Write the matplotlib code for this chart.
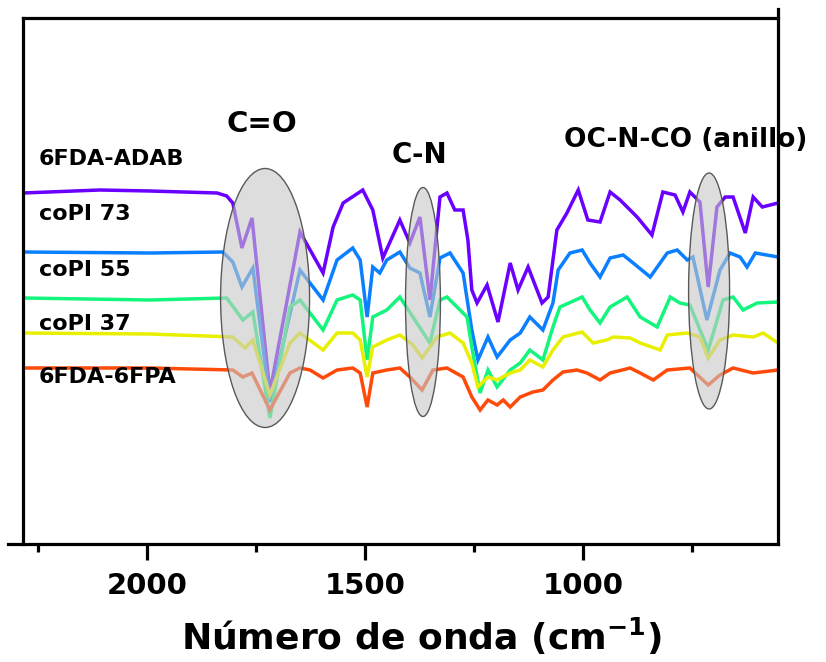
import matplotlib
matplotlib.use("Agg")
import matplotlib.pyplot as plt
from matplotlib.patches import Ellipse
from matplotlib.ticker import MultipleLocator

plt.rcParams['font.family'] = 'DejaVu Sans'
plt.rcParams['font.weight'] = 'bold'
plt.rcParams['mathtext.default'] = 'bf'

# FTIR spectra, wavenumber (cm-1) vs offset transmittance (a.u.)
wn_adab = [2284, 2108, 1993, 1839, 1817, 1803, 1782, 1759, 1718, 1649, 1596, 1573, 1550,
           1505, 1482, 1459, 1420, 1397, 1374, 1351, 1328, 1312, 1294, 1275, 1264, 1255,
           1243, 1220, 1195, 1167, 1149, 1126, 1094, 1080, 1060, 1037, 1011, 989, 961,
           938, 915, 876, 842, 817, 789, 771, 755, 732, 713, 693, 674, 656, 628, 610, 589, 553]
t_adab = [351, 354, 353, 351, 348, 341, 296, 326, 152, 312, 271, 317, 341,
          354, 334, 286, 324, 301, 327, 244, 347, 351, 334, 334, 304, 254,
          241, 259, 222, 281, 254, 277, 241, 247, 314, 331, 354, 324, 322,
          352, 344, 327, 309, 352, 349, 332, 352, 342, 257, 337, 347, 347, 311, 347, 337, 341]

wn_73 = [2284, 1993, 1826, 1803, 1782, 1757, 1718, 1649, 1596, 1564, 1528, 1511, 1495,
         1482, 1466, 1450, 1420, 1397, 1374, 1351, 1328, 1305, 1275, 1255, 1241, 1218,
         1197, 1167, 1144, 1122, 1092, 1069, 1057, 1030, 1002, 984, 961, 938, 908, 885,
         846, 807, 784, 761, 748, 716, 686, 663, 640, 624, 605, 553]
t_73 = [292, 291, 292, 282, 257, 276, 142, 274, 244, 284, 296, 284, 227,
        277, 271, 284, 292, 276, 271, 227, 286, 291, 271, 214, 184, 207,
        187, 204, 211, 227, 214, 241, 274, 291, 294, 281, 267, 286, 289, 281,
        267, 291, 294, 284, 287, 224, 274, 291, 287, 277, 291, 287]

wn_55 = [2284, 1993, 1817, 1780, 1757, 1718, 1672, 1649, 1596, 1564, 1528, 1511, 1495,
         1482, 1450, 1420, 1390, 1351, 1328, 1312, 1282, 1266, 1255, 1236, 1218, 1197,
         1167, 1144, 1122, 1092, 1069, 1053, 1002, 984, 961, 938, 899, 869, 830, 800,
         778, 755, 713, 679, 656, 633, 601, 553]
t_55 = [246, 244, 246, 224, 232, 126, 237, 244, 214, 244, 249, 244, 184,
        227, 234, 247, 227, 201, 244, 247, 234, 227, 197, 151, 174, 157,
        174, 181, 194, 184, 217, 237, 247, 234, 221, 237, 247, 227, 217, 247,
        241, 239, 194, 244, 247, 234, 241, 242]

wn_37 = [2284, 1993, 1803, 1775, 1757, 1718, 1672, 1649, 1596, 1564, 1528, 1511, 1495,
         1482, 1450, 1420, 1390, 1369, 1335, 1305, 1275, 1255, 1241, 1218, 1197, 1167,
         1144, 1122, 1092, 1069, 1046, 1002, 977, 945, 931, 892, 869, 823, 807, 761,
         732, 713, 686, 656, 610, 587, 553]
t_37 = [211, 210, 207, 196, 204, 149, 201, 211, 194, 211, 211, 204, 167,
        197, 204, 209, 199, 186, 207, 211, 201, 181, 157, 167, 164, 171,
        174, 184, 177, 194, 207, 212, 201, 204, 207, 206, 201, 194, 209, 211,
        207, 186, 204, 209, 207, 211, 201]

wn_6fpa = [2284, 1993, 1803, 1780, 1759, 1718, 1672, 1649, 1626, 1596, 1564, 1528, 1511,
           1495, 1482, 1450, 1420, 1397, 1369, 1344, 1312, 1275, 1255, 1236, 1218, 1197,
           1183, 1167, 1144, 1115, 1092, 1069, 1046, 1014, 991, 961, 938, 892, 869, 839,
           807, 755, 713, 686, 656, 610, 553]
t_6fpa = [176, 176, 174, 167, 171, 134, 171, 176, 174, 166, 174, 176, 171,
          137, 171, 174, 176, 167, 154, 174, 176, 167, 147, 134, 144, 139,
          144, 137, 147, 152, 154, 164, 172, 174, 171, 164, 171, 176, 171, 164,
          174, 176, 159, 169, 176, 171, 174]

series = [
    ("6FDA-ADAB", wn_adab, t_adab, "#6a00ff"),
    ("coPI 73", wn_73, t_73, "#0a7fff"),
    ("coPI 55", wn_55, t_55, "#14f57e"),
    ("coPI 37", wn_37, t_37, "#e8f000"),
    ("6FDA-6FPA", wn_6fpa, t_6fpa, "#ff4a0a"),
]

# band regions: label, centre wavenumber, centre y, width, height
bands = [
    ("C=O", 1729, 246, 204, 259),
    ("C-N", 1367, 242, 80, 229),
    ("OC-N-CO (anillo)", 711, 253, 94, 236),
]

W, H = 826, 662
fig = plt.figure(figsize=(W / 100, H / 100), dpi=100)
ax = fig.add_axes([23 / W, 1 - 544 / H, (778 - 23) / W, (544 - 18) / H])

for name, x, y, c in series:
    ax.plot(x, y, color=c, lw=2.5, solid_joinstyle='miter', zorder=2)

for name, xc, yc, w, h in bands:
    ax.add_patch(Ellipse((xc, yc), w, h, facecolor=(0.78, 0.78, 0.78, 0.6),
                         edgecolor=(0.35, 0.35, 0.35, 1), lw=1.0, zorder=3))

ax.set_xlim(2284, 553)
ax.set_ylim(0, 526)

for s in ax.spines.values():
    s.set_linewidth(2.3)
ax.spines['right'].set_bounds(0, 535)
ax.spines['bottom'].set_bounds(2318, 553)

ax.xaxis.set_major_locator(MultipleLocator(500))
ax.xaxis.set_minor_locator(MultipleLocator(250))
ax.tick_params(axis='x', which='major', direction='out', length=11.5, width=2.3,
               labelsize=21, pad=9)
ax.tick_params(axis='x', which='minor', direction='out', length=5.5, width=2.3)
ax.set_yticks([])
for lab in ax.get_xticklabels():
    lab.set_fontweight('bold')

def px(x, y):
    return x / W, 1 - y / H

# series names on the left
name_pos = [159, 214, 270, 324, 377]
for (name, x, y, c), yp in zip(series, name_pos):
    fig.text(*px(39, yp), name, fontsize=16, fontweight='bold', ha='left', va='center')

# band labels
fig.text(*px(262, 124), "C=O", fontsize=21, fontweight='bold', ha='center', va='center')
fig.text(*px(419, 155), "C-N", fontsize=20, fontweight='bold', ha='center', va='center')
fig.text(*px(686, 140), "OC-N-CO (anillo)", fontsize=19, fontweight='bold',
         ha='center', va='center')

fig.text(*px(421, 650), "Número de onda (cm$^{-1}$)", fontsize=26, fontweight='bold',
         ha='center', va='baseline')

fig.savefig("out.png", dpi=100)
